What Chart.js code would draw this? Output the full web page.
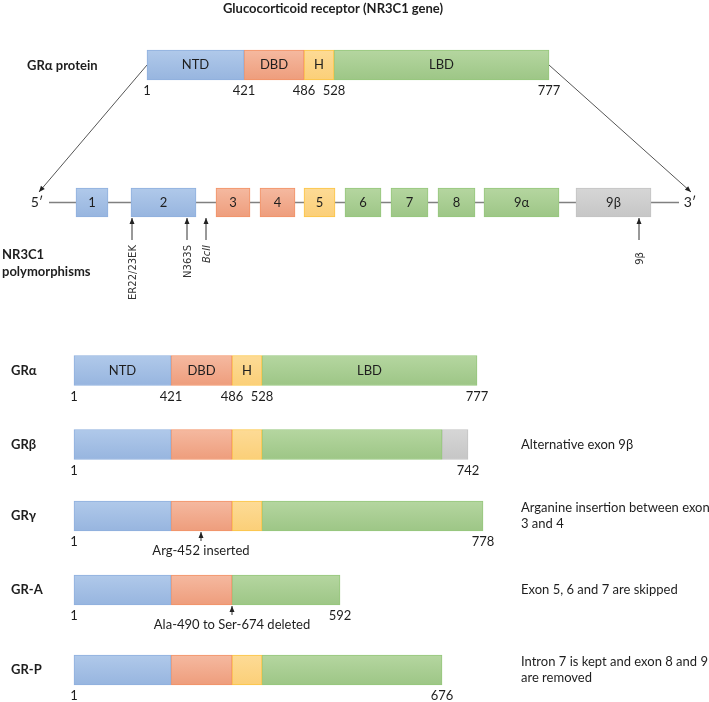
<!DOCTYPE html>
<html>
<head>
<meta charset="utf-8">
<script src="https://cdn.jsdelivr.net/npm/chart.js@4"></script>
<style>html,body{margin:0;padding:0;background:#fff}</style>
</head>
<body>
<canvas id="myChart" width="709" height="702"></canvas>
<script>
// --- data (drawing units along the diagram) ---
const title = "Glucocorticoid receptor (NR3C1 gene)";
const domainNames = ["NTD", "DBD", "H", "LBD"];

// GRα protein on top
const topNTD = [147, 244];
const topDBD = [244, 304];
const topH = [304, 334];
const topLBD = [334, 549];
const topTicks = ["1", "421", "486", "528", "777"];

// NR3C1 gene exons
const exonNames = ["1", "2", "3", "4", "5", "6", "7", "8", "9α", "9β"];
const exonStart = [76, 131, 216, 260, 304, 345, 391, 438, 484, 576];
const exonEnd = [108, 196, 250, 295, 335, 381, 428, 475, 559, 651];
const exonDomain = ["ntd", "ntd", "dbd", "dbd", "h", "lbd", "lbd", "lbd", "lbd", "beta"];
const geneStart = 49, geneEnd = 679;

// polymorphisms
const polyNames = ["ER22/23EK", "N363S", "BclI", "9β"];
const polyPos = [132, 187, 206, 639];

// isoforms
const isoforms = ["GRα", "GRβ", "GRγ", "GR-A", "GR-P"];
const isoNTD = [[74, 171], [74, 171], [74, 171], [74, 171], [74, 171]];
const isoDBD = [[171, 232], [171, 232], [171, 232], [171, 232], [171, 232]];
const isoH = [[232, 262], [232, 262], [232, 262], null, [232, 262]];
const isoLBD = [[262, 477], [262, 442], [262, 483], [232, 340], [262, 442]];
const isoBeta = [null, [442, 468], null, null, null];
const isoEndLabels = ["777", "742", "778", "592", "676"];
const isoAlphaTicks = ["1", "421", "486", "528", "777"];
const isoNotes = [
  [],
  ["Alternative exon 9β"],
  ["Arganine insertion between exon", "3 and 4"],
  ["Exon 5, 6 and 7 are skipped"],
  ["Intron 7 is kept and exon 8 and 9", "are removed"]
];
const marks = [
  { row: 2, x: 201, text: "Arg-452 inserted" },
  { row: 3, x: 232, text: "Ala-490 to Ser-674 deleted" }
];

// --- layout ---
const topY = 65, geneY = 202.5;
const rowY = [370.5, 444.5, 516, 590, 670];
const FONT = "Lato, 'Liberation Sans', sans-serif";
const colors = {
  ntd: ["#b0c9ea", "#97b5df", "#8fb0de"],
  dbd: ["#f5b9a0", "#ee9d7c", "#f29266"],
  h: ["#fddb96", "#fbcf78", "#fcc443"],
  lbd: ["#b5d6a0", "#9dc686", "#96c77c"],
  beta: ["#d6d6d6", "#c6c6c6", "#c3c3c3"]
};

function grad(key, half) {
  return function (c) {
    const col = colors[key];
    if (!c.parsed || !c.chart.scales.y) return col[1];
    const yc = c.chart.scales.y.getPixelForValue(c.parsed.y);
    if (!isFinite(yc)) return col[1];
    const g = c.chart.ctx.createLinearGradient(0, yc - half, 0, yc + half);
    g.addColorStop(0, col[0]);
    g.addColorStop(1, col[1]);
    return g;
  };
}

function rows(list, ys) {
  return list.map((seg, i) => seg ? { x: seg, y: ys[i] } : null).filter(Boolean);
}

function domainSet(key, topSeg, isoSegs) {
  const data = rows(isoSegs, rowY);
  if (topSeg) data.unshift({ x: topSeg, y: topY });
  return {
    type: 'bar', data: data, indexAxis: 'y', grouped: false,
    barThickness: 30, borderWidth: 1, borderSkipped: false,
    backgroundColor: grad(key, 15), borderColor: colors[key][2], order: 1
  };
}

function lineSet(points, color, width, arrow) {
  return {
    type: 'line', data: points, borderColor: color, borderWidth: width,
    pointRadius: 0, fill: false, tension: 0, arrow: arrow, order: 5
  };
}

const datasets = [
  lineSet([{ x: geneStart, y: geneY }, { x: geneEnd, y: geneY }], "#808080", 1.3, false),
  lineSet([{ x: topNTD[0], y: topY }, { x: 39, y: 192 }], "#555", 1, true),
  lineSet([{ x: topLBD[1], y: topY }, { x: 691, y: 192 }], "#555", 1, true),
  domainSet('ntd', topNTD, isoNTD),
  domainSet('dbd', topDBD, isoDBD),
  domainSet('h', topH, isoH),
  domainSet('lbd', topLBD, isoLBD),
  domainSet('beta', null, isoBeta),
  {
    type: 'bar', indexAxis: 'y', grouped: false, barThickness: 29,
    borderWidth: 1, borderSkipped: false, order: 1,
    data: exonStart.map((s, i) => ({ x: [s, exonEnd[i]], y: geneY })),
    backgroundColor: c => grad(exonDomain[c.dataIndex] || 'ntd', 14.5)(c),
    borderColor: c => colors[exonDomain[c.dataIndex] || 'ntd'][2]
  }
];
polyPos.forEach(p => datasets.push(lineSet([{ x: p, y: 240 }, { x: p, y: 218 }], "#333", 1, true)));
marks.forEach(m => datasets.push(lineSet([{ x: m.x, y: rowY[m.row] + 25 }, { x: m.x, y: rowY[m.row] + 16 }], "#333", 1, true)));

// --- text items ---
const texts = [];
function T(t, x, y, opt) { texts.push(Object.assign({ t: t, x: x, y: y }, opt || {})); }
const bold = "bold 13px " + FONT, reg = "13px " + FONT;

T(title, 333, 9, { font: bold });
T("GRα protein", 27, topY + 1, { font: bold, align: 'left' });
[topNTD, topDBD, topH, topLBD].forEach((s, i) => T(domainNames[i], (s[0] + s[1]) / 2, topY));
[topNTD[0], topNTD[1], topDBD[1], topH[1], topLBD[1]].forEach((x, i) => T(topTicks[i], x, topY + 26));

T("5′", 37, geneY, { font: "14px " + FONT });
T("3′", 690, geneY, { font: "14px " + FONT });
exonNames.forEach((n, i) => T(n, (exonStart[i] + exonEnd[i]) / 2, geneY));
T("NR3C1", 2, 255, { font: bold, align: 'left' });
T("polymorphisms", 2, 272, { font: bold, align: 'left' });
polyNames.forEach((n, i) => T(n, polyPos[i] + 1, n === "9β" ? 252 : 245, {
  font: (n === "BclI" ? "italic " : "") + "10px 'DejaVu Sans', sans-serif",
  align: 'right', rot: -Math.PI / 2, color: '#333'
}));

isoforms.forEach((n, i) => {
  T(n, 11, rowY[i], { font: bold, align: 'left' });
  T("1", isoNTD[i][0], rowY[i] + 26);
  T(isoEndLabels[i], isoBeta[i] ? isoBeta[i][1] : isoLBD[i][1], rowY[i] + 26);
  const notes = isoNotes[i];
  if (notes.length === 1) T(notes[0], 521, rowY[i], { align: 'left' });
  if (notes.length === 2) {
    T(notes[0], 521, rowY[i] - 8, { align: 'left' });
    T(notes[1], 521, rowY[i] + 7.5, { align: 'left' });
  }
});
[isoNTD[0], isoDBD[0], isoH[0], isoLBD[0]].forEach((s, i) => T(domainNames[i], (s[0] + s[1]) / 2, rowY[0]));
[isoNTD[0][1], isoDBD[0][1], isoH[0][1]].forEach((x, i) => T(isoAlphaTicks[i + 1], x, rowY[0] + 26));
marks.forEach(m => T(m.text, m.x, rowY[m.row] + 34.5));

// --- plugins ---
const arrowPlugin = {
  id: 'arrows',
  afterDatasetsDraw(chart) {
    const ctx = chart.ctx;
    chart.data.datasets.forEach((ds, i) => {
      if (!ds.arrow) return;
      const pts = chart.getDatasetMeta(i).data;
      const a = pts[pts.length - 2], b = pts[pts.length - 1];
      const ang = Math.atan2(b.y - a.y, b.x - a.x);
      ctx.save();
      ctx.translate(b.x, b.y);
      ctx.rotate(ang);
      ctx.fillStyle = '#222';
      ctx.beginPath();
      ctx.moveTo(0, 0);
      ctx.lineTo(-6, -2.5);
      ctx.lineTo(-6, 2.5);
      ctx.closePath();
      ctx.fill();
      ctx.restore();
    });
  }
};

const textPlugin = {
  id: 'texts',
  afterDraw(chart) {
    const ctx = chart.ctx, xs = chart.scales.x, ys = chart.scales.y;
    texts.forEach(o => {
      ctx.save();
      ctx.translate(xs.getPixelForValue(o.x), ys.getPixelForValue(o.y));
      if (o.rot) ctx.rotate(o.rot);
      ctx.font = o.font || reg;
      ctx.fillStyle = o.color || '#1e1e1e';
      ctx.textAlign = o.align || 'center';
      ctx.textBaseline = 'middle';
      ctx.fillText(o.t, 0, 0);
      ctx.restore();
    });
  }
};

new Chart(document.getElementById('myChart').getContext('2d'), {
  type: 'bar',
  data: { datasets: datasets },
  options: {
    responsive: false,
    animation: false,
    layout: { padding: 0 },
    plugins: { legend: { display: false }, tooltip: { enabled: false } },
    scales: {
      x: { type: 'linear', min: 0, max: 709, display: false, offset: false },
      y: { type: 'linear', min: 0, max: 702, reverse: true, display: false, offset: false }
    }
  },
  plugins: [arrowPlugin, textPlugin]
});
</script>
</body>
</html>
